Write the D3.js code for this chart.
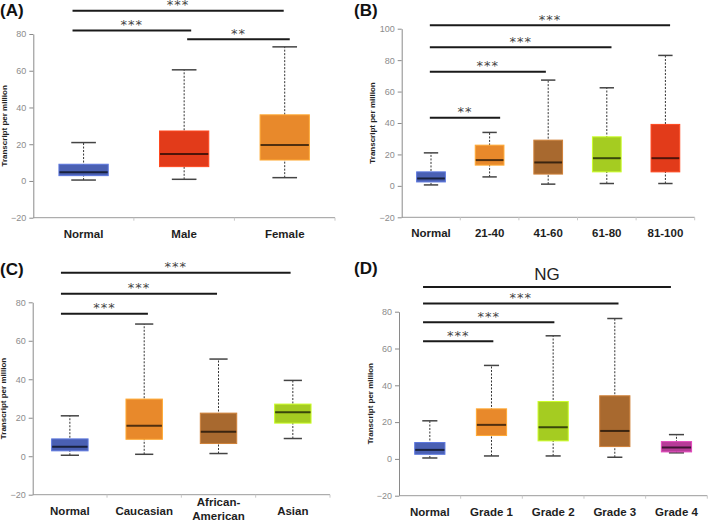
<!DOCTYPE html>
<html>
<head>
<meta charset="utf-8">
<script src="https://cdn.jsdelivr.net/npm/d3@7"></script>
<style>
  body { margin: 0; background: #fff; }
  svg { display: block; }
</style>
</head>
<body>
<div id="chart"></div>
<script>
// ---- data ----
// five-number summaries per box: [min, q1, median, q3, max]
const catsA = ["Normal", "Male", "Female"];
const statsA = [
  [0.5, 2.9, 4.7, 9.1, 20.9],
  [0.9, 7.8, 14.7, 27.2, 60.5],
  [1.8, 11.4, 19.6, 36.0, 73.0]
];
const catsB = ["Normal", "21-40", "41-60", "61-80", "81-100"];
const statsB = [
  [0.6, 2.5, 4.7, 8.9, 21.0],
  [5.7, 13.2, 16.4, 25.9, 34.0],
  [1.1, 7.5, 14.9, 29.1, 67.3],
  [1.5, 8.9, 17.6, 31.2, 62.4],
  [1.5, 8.9, 17.6, 39.1, 83.0]
];
const catsC = ["Normal", "Caucasian", "African-American", "Asian"];
const statsC = [
  [0.5, 2.8, 4.9, 9.0, 21.0],
  [1.0, 8.8, 15.8, 29.7, 68.7],
  [1.4, 6.6, 12.7, 22.4, 50.5],
  [9.2, 17.2, 22.9, 27.1, 39.4]
];
const catsD = ["Normal", "Grade 1", "Grade 2", "Grade 3", "Grade 4"];
const statsD = [
  [0.5, 2.5, 4.9, 8.9, 20.7],
  [1.6, 12.7, 18.5, 27.2, 50.8],
  [1.6, 9.8, 17.2, 31.2, 66.9],
  [0.9, 6.7, 15.2, 34.3, 76.3],
  [3.3, 3.8, 6.2, 9.4, 13.2]
];
// significance brackets: from / to in category index units, level in axis units
const sigA = [
  { from: -0.11, to: 1.99, level: 92.6, text: "***" },
  { from: -0.11, to: 1.07, level: 81.9, text: "***" },
  { from: 1.03, to: 2.05, level: 77.2, text: "**" }
];
const sigB = [
  { from: -0.02, to: 4.08, level: 102.2, text: "***" },
  { from: -0.02, to: 3.08, level: 88.2, text: "***" },
  { from: -0.02, to: 1.96, level: 72.6, text: "***" },
  { from: -0.02, to: 1.18, level: 43.3, text: "**" }
];
const sigC = [
  { from: -0.12, to: 2.97, level: 95.3, text: "***" },
  { from: -0.12, to: 1.98, level: 84.4, text: "***" },
  { from: -0.12, to: 1.05, level: 74.1, text: "***" }
];
const sigD = [
  { from: -0.11, to: 3.91, level: 93.4, text: "NG" },
  { from: -0.11, to: 3.06, level: 84.5, text: "***" },
  { from: -0.11, to: 2.02, level: 74.3, text: "***" },
  { from: -0.11, to: 1.03, level: 63.9, text: "***" }
];
const ticks80 = [-20, 0, 20, 40, 60, 80];
const ticks100 = [-20, 0, 20, 40, 60, 80, 100];

// ---- styling / layout ----
const width = 709, height = 522;
const blue = "#4a60b3", red = "#e23b1a", orange = "#e8892b",
      brown = "#a8692f", lime = "#a5cc21", magenta = "#b73b98";

const panels = [
  { tag: "(A)", tagX: 0, tagY: 16, cats: catsA, stats: statsA, sig: sigA, ticks: ticks80,
    colors: [blue, red, orange], x0: 33.3, x1: 335, yTop: 34, yBot: 217.7 },
  { tag: "(B)", tagX: 354, tagY: 16, cats: catsB, stats: statsB, sig: sigB, ticks: ticks100,
    colors: [blue, orange, brown, lime, red], x0: 401.7, x1: 694.7, yTop: 28.7, yBot: 217.3 },
  { tag: "(C)", tagX: 0, tagY: 275, cats: catsC, stats: statsC, sig: sigC, ticks: ticks80,
    colors: [blue, orange, brown, lime], x0: 32.7, x1: 330, yTop: 302.3, yBot: 494.7 },
  { tag: "(D)", tagX: 354, tagY: 274, cats: catsD, stats: statsD, sig: sigD, ticks: ticks80,
    colors: [blue, orange, lime, brown, magenta], x0: 399, x1: 707.3, yTop: 311.7, yBot: 495.7 }
];

const svg = d3.select("#chart").append("svg")
  .attr("width", width).attr("height", height)
  .style("font-family", "'Liberation Sans', Arial, sans-serif");

panels.forEach(drawPanel);

function drawPanel(p) {
  const g = svg.append("g");
  const x = d3.scaleBand().domain(p.cats).range([p.x0, p.x1]);
  const y = d3.scaleLinear()
    .domain([p.ticks[0], p.ticks[p.ticks.length - 1]])
    .range([p.yBot, p.yTop]);
  const bw = x.bandwidth();
  const cx = i => p.x0 + bw * (i + 0.5); // centre of category i (fractional ok)

  // y axis
  const yAxis = g.append("g").attr("transform", `translate(${p.x0},0)`)
    .call(d3.axisLeft(y).tickValues(p.ticks).tickSize(4).tickSizeOuter(0).tickPadding(3));
  yAxis.select(".domain").attr("stroke", "#8a8a8a");
  yAxis.selectAll(".tick line").attr("stroke", "#8a8a8a");
  yAxis.selectAll(".tick text").attr("fill", "#8c8c8c")
    .style("font-size", "9px").style("font-family", "'Liberation Sans', Arial, sans-serif");

  // x axis: baseline plus ticks at band edges
  g.append("line")
    .attr("x1", p.x0).attr("x2", p.x1)
    .attr("y1", y(p.ticks[0])).attr("y2", y(p.ticks[0]))
    .attr("stroke", "#9a9a9a");
  g.selectAll(".xtick").data(p.cats).enter().append("line")
    .attr("x1", (d, i) => p.x0 + bw * (i + 1)).attr("x2", (d, i) => p.x0 + bw * (i + 1))
    .attr("y1", y(p.ticks[0])).attr("y2", y(p.ticks[0]) + 3)
    .attr("stroke", "#c8c8c8");

  // category labels, wrap long hyphenated ones
  p.cats.forEach(c => {
    const lines = (c.length > 10 && c.includes("-")) ? [c.split("-")[0] + "-", c.split("-")[1]] : [c];
    const t = g.append("text")
      .attr("x", x(c) + bw / 2)
      .attr("y", y(p.ticks[0]) + 20 - (lines.length - 1) * 9)
      .attr("text-anchor", "middle")
      .style("font-size", "11.5px").style("font-weight", "bold").attr("fill", "#1e1e1e");
    lines.forEach((l, k) => t.append("tspan").attr("x", x(c) + bw / 2).attr("dy", k ? 14 : 0).text(l));
  });

  // y axis title
  const midY = (p.yTop + p.yBot) / 2;
  g.append("text")
    .attr("transform", `translate(${p.x0 - 29},${midY}) rotate(-90)`)
    .attr("text-anchor", "middle").attr("dominant-baseline", "central")
    .style("font-size", "8px").style("font-weight", "bold").attr("fill", "#222")
    .text("Transcript per million");

  // panel tag
  g.append("text").attr("x", p.tagX).attr("y", p.tagY)
    .style("font-size", "17px").style("font-weight", "bold").attr("fill", "#111")
    .text(p.tag);

  // boxes
  const boxW = bw * 0.49, capW = boxW * 0.5;
  const box = g.selectAll(".box").data(p.stats).enter().append("g")
    .attr("transform", (d, i) => `translate(${cx(i)},0)`);
  // whiskers
  box.append("line")
    .attr("y1", d => y(d[0])).attr("y2", d => y(d[4]))
    .attr("stroke", "#333").attr("stroke-width", 1).attr("stroke-dasharray", "2,1.5");
  [0, 4].forEach(k => box.append("line")
    .attr("x1", -capW / 2).attr("x2", capW / 2)
    .attr("y1", d => y(d[k])).attr("y2", d => y(d[k]))
    .attr("stroke", "#444").attr("stroke-width", 1.5));
  box.append("rect")
    .attr("x", -boxW / 2).attr("width", boxW)
    .attr("y", d => y(d[3])).attr("height", d => y(d[1]) - y(d[3]))
    .attr("fill", (d, i) => p.colors[i])
    .attr("stroke", (d, i) => d3.color(p.colors[i]).brighter(0.6))
    .attr("stroke-width", 1);
  box.append("line")
    .attr("x1", -boxW / 2 + 0.5).attr("x2", boxW / 2 - 0.5)
    .attr("y1", d => y(d[2])).attr("y2", d => y(d[2]))
    .attr("stroke", (d, i) => d3.color(p.colors[i]).darker(3))
    .attr("stroke-width", 2);

  // significance brackets
  p.sig.forEach(s => {
    const ly = y(s.level);
    g.append("line")
      .attr("x1", cx(s.from)).attr("x2", cx(s.to))
      .attr("y1", ly).attr("y2", ly)
      .attr("stroke", "#1a1a1a").attr("stroke-width", 2);
    const isNG = s.text === "NG";
    g.append("text")
      .attr("x", (cx(s.from) + cx(s.to)) / 2)
      .attr("y", isNG ? ly - 7 : ly - 1.5)
      .attr("text-anchor", "middle")
      .style("font-family", isNG ? "'Liberation Sans', Arial, sans-serif" : "'DejaVu Sans', sans-serif")
      .style("font-size", isNG ? "17px" : "13px")
      .style("letter-spacing", isNG ? "0px" : "1px")
      .attr("fill", isNG ? "#222" : "#444")
      .text(s.text);
  });
}
</script>
</body>
</html>
